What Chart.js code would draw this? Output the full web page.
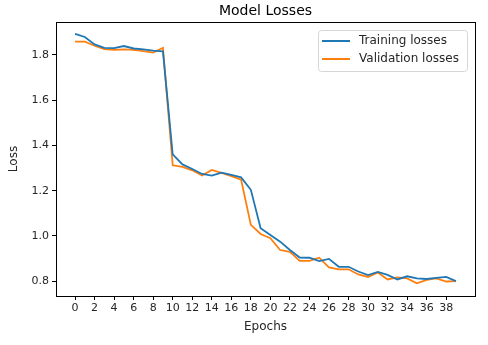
<!DOCTYPE html>
<html>
<head>
<meta charset="utf-8">
<script src="https://cdn.jsdelivr.net/npm/chart.js@4/dist/chart.umd.min.js"></script>
<style>
  html, body { margin: 0; padding: 0; background: #fff; }
  #wrap { width: 488px; height: 345px; }
</style>
</head>
<body>
<div id="wrap"><canvas id="lossChart" width="488" height="345"></canvas></div>
<script>
// values
const epochs = [];
for (let i = 0; i < 40; i++) epochs.push(i);

const trainingLosses = [
  1.893, 1.879, 1.846, 1.831, 1.830, 1.839, 1.828, 1.824, 1.819, 1.815,
  1.360, 1.316, 1.296, 1.274, 1.267, 1.280, 1.270, 1.259, 1.204, 1.034,
  1.004, 0.975, 0.938, 0.905, 0.904, 0.889, 0.899, 0.864, 0.864, 0.843,
  0.827, 0.841, 0.828, 0.808, 0.822, 0.813, 0.810, 0.815, 0.819, 0.801
];
const validationLosses = [
  1.858, 1.858, 1.840, 1.825, 1.822, 1.824, 1.822, 1.816, 1.810, 1.831,
  1.312, 1.305, 1.290, 1.267, 1.292, 1.279, 1.264, 1.249, 1.049, 1.009,
  0.990, 0.938, 0.930, 0.890, 0.890, 0.904, 0.861, 0.853, 0.853, 0.830,
  0.819, 0.839, 0.808, 0.817, 0.813, 0.791, 0.806, 0.813, 0.799, 0.801
];
const seriesNames = ['Training losses', 'Validation losses'];
const seriesColors = ['#1f77b4', '#ff7f0e'];
const xTicks = [0, 2, 4, 6, 8, 10, 12, 14, 16, 18, 20, 22, 24, 26, 28, 30, 32, 34, 36, 38];
const yTicks = [0.8, 1.0, 1.2, 1.4, 1.6, 1.8];

const FONT = 'DejaVu Sans';
const TEXT = '#262626';

// top + right spines, and the title centred over the axes
const frame = {
  id: 'frame',
  afterDatasetsDraw(chart) {
    const { ctx, chartArea: a } = chart;
    ctx.save();
    ctx.strokeStyle = '#000';
    ctx.lineWidth = 1;
    ctx.strokeRect(Math.round(a.left) + 0.5, Math.round(a.top) + 0.5,
      Math.round(a.right - a.left), Math.round(a.bottom - a.top));
    ctx.fillStyle = '#000';
    ctx.font = '14px "' + FONT + '"';
    ctx.textAlign = 'center';
    ctx.textBaseline = 'middle';
    ctx.fillText('Model Losses', (a.left + a.right) / 2, 11);
    ctx.restore();
  }
};

// matplotlib-like legend box in the upper right
const boxLegend = {
  id: 'boxLegend',
  afterDraw(chart) {
    const { ctx, chartArea: a } = chart;
    const w = 149, h = 41;
    const x = a.right - 8 - w, y = a.top + 8;
    ctx.save();
    ctx.beginPath();
    ctx.roundRect(x + 0.5, y + 0.5, w, h, 3);
    ctx.fillStyle = 'rgba(255,255,255,0.8)';
    ctx.fill();
    ctx.strokeStyle = '#d6d6d6';
    ctx.lineWidth = 1;
    ctx.stroke();
    ctx.font = '12px "' + FONT + '"';
    ctx.textBaseline = 'middle';
    seriesNames.forEach((name, i) => {
      const ly = y + 11 + i * 18;
      ctx.strokeStyle = seriesColors[i];
      ctx.lineWidth = 2;
      ctx.beginPath();
      ctx.moveTo(x + 4, ly);
      ctx.lineTo(x + 32, ly);
      ctx.stroke();
      ctx.fillStyle = TEXT;
      ctx.fillText(name, x + 41, ly);
    });
    ctx.restore();
  }
};

const ctx = document.getElementById('lossChart').getContext('2d');
new Chart(ctx, {
  type: 'line',
  data: {
    datasets: [trainingLosses, validationLosses].map((vals, i) => ({
      label: seriesNames[i],
      data: epochs.map((e, j) => ({ x: e, y: vals[j] })),
      borderColor: seriesColors[i],
      backgroundColor: seriesColors[i],
      borderWidth: 1.8,
      pointRadius: 0,
      tension: 0,
      fill: false
    }))
  },
  options: {
    responsive: false,
    animation: false,
    devicePixelRatio: 1,
    layout: { padding: { left: 0, right: 13, top: 22, bottom: 0 } },
    plugins: {
      legend: { display: false },
      tooltip: { enabled: false },
      title: { display: false }
    },
    scales: {
      x: {
        type: 'linear',
        min: -1.95,
        max: 40.95,
        afterBuildTicks(scale) { scale.ticks = xTicks.map(v => ({ value: v })); },
        afterFit(scale) { scale.height = 49; },
        grid: { display: true, drawOnChartArea: false, drawTicks: true, tickLength: 4, color: '#000' },
        border: { display: true, color: '#000', width: 1 },
        ticks: {
          autoSkip: false, maxRotation: 0, padding: 2, color: TEXT,
          font: { family: FONT, size: 11 },
          callback: v => String(v)
        },
        title: {
          display: true, text: 'Epochs', color: TEXT,
          font: { family: FONT, size: 12 },
          padding: { top: 0, bottom: 10.8 }
        }
      },
      y: {
        type: 'linear',
        min: 0.735,
        max: 1.945,
        afterBuildTicks(scale) { scale.ticks = yTicks.map(v => ({ value: v })); },
        afterFit(scale) { scale.width = 56; },
        grid: { display: true, drawOnChartArea: false, drawTicks: true, tickLength: 4, color: '#000' },
        border: { display: true, color: '#000', width: 1 },
        ticks: {
          padding: 3, color: TEXT,
          font: { family: FONT, size: 11 },
          callback: v => v.toFixed(1)
        },
        title: {
          display: true, text: 'Loss', color: TEXT,
          font: { family: FONT, size: 12 },
          padding: { top: 7, bottom: 0 }
        }
      }
    }
  },
  plugins: [frame, boxLegend]
});
</script>
</body>
</html>
